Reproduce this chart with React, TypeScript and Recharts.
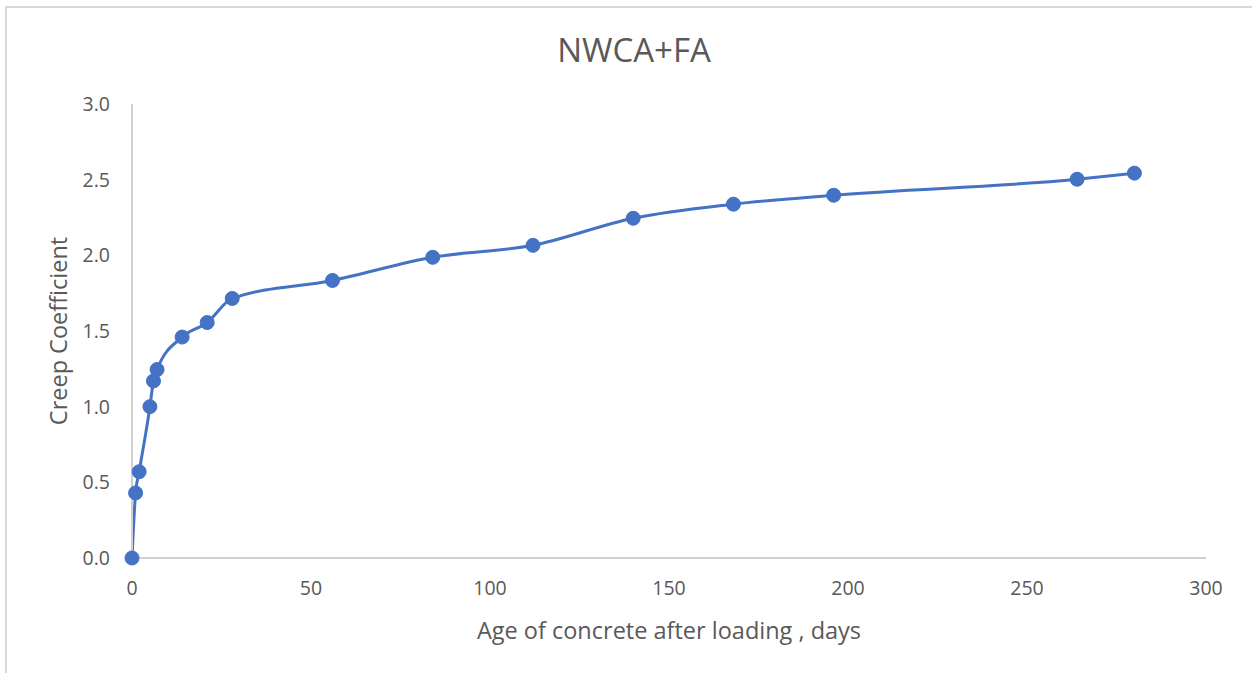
import React from 'react';
import { LineChart, Line, XAxis, YAxis } from 'recharts';

const days = [0, 1, 2, 5, 6, 7, 14, 21, 28, 56, 84, 112, 140, 168, 196, 264, 280];
const creep = [0, 0.43, 0.57, 1.0, 1.17, 1.245, 1.46, 1.556, 1.715, 1.834, 1.987, 2.066, 2.245, 2.338, 2.397, 2.503, 2.543];
const xTicks = [0, 50, 100, 150, 200, 250, 300];
const yTicks = [0, 0.5, 1.0, 1.5, 2.0, 2.5, 3.0];

const data = days.map((d, i) => ({ day: d, creep: creep[i] }));

const FONT = '"Open Sans", "Noto Sans", sans-serif';

export default function App() {
  return (
    <div style={{ position: 'absolute', left: 0, top: 0, width: 1252, height: 673, overflow: 'hidden', background: '#fff' }}>
      <div style={{ position: 'absolute', left: 5, top: 6, width: 1270, height: 700, border: '2px solid #d9d9d9', boxSizing: 'border-box' }} />
      <div style={{ position: 'absolute', left: 0, top: 0 }}>
        <LineChart width={1252} height={673} data={data} margin={{ top: 104, right: 46, bottom: 85, left: 72 }}>
          <text x={634} y={49} textAnchor="middle" dominantBaseline="central" fontFamily={FONT} fontSize={33} fill="#595959">NWCA+FA</text>
          <text x={669} y={630} textAnchor="middle" dominantBaseline="central" fontFamily={FONT} fontSize={23.5} fill="#595959">Age of concrete after loading , days</text>
          <text x={58} y={331} transform="rotate(-90, 58, 331)" textAnchor="middle" dominantBaseline="central" fontFamily={FONT} fontSize={23.5} fill="#595959">Creep Coefficient</text>
          <XAxis
            dataKey="day"
            type="number"
            domain={[0, 300]}
            ticks={xTicks}
            height={30}
            tickSize={0}
            tickMargin={23}
            axisLine={{ stroke: '#d0d0d0', strokeWidth: 2 }}
            tick={{ fill: '#595959', fontSize: 19.5, fontFamily: FONT }}
          />
          <YAxis
            type="number"
            domain={[0, 3]}
            ticks={yTicks}
            width={60}
            tickSize={0}
            tickMargin={22}
            tickFormatter={(v: number) => v.toFixed(1)}
            axisLine={{ stroke: '#d0d0d0', strokeWidth: 2 }}
            tick={{ fill: '#595959', fontSize: 19.5, fontFamily: FONT }}
          />
          <Line
            dataKey="creep"
            type="monotone"
            stroke="#4472C4"
            strokeWidth={3}
            dot={{ r: 7, fill: '#4472C4', stroke: '#4472C4', strokeWidth: 1 }}
            isAnimationActive={false}
          />
        </LineChart>
      </div>
    </div>
  );
}
